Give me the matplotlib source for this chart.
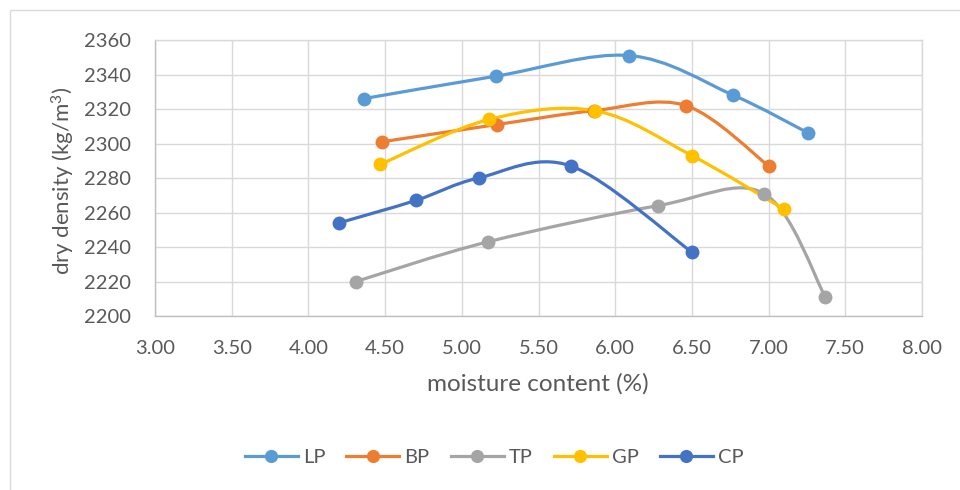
import matplotlib
matplotlib.use("Agg")
import matplotlib.pyplot as plt
from matplotlib.path import Path
from matplotlib.patches import PathPatch, Rectangle
from matplotlib.lines import Line2D
import numpy as np

plt.rcParams['font.family'] = ['Lato', 'DejaVu Sans']
plt.rcParams['mathtext.fontset'] = 'custom'
plt.rcParams['mathtext.rm'] = 'Lato'
plt.rcParams['mathtext.default'] = 'regular'

series_names = ["LP", "BP", "TP", "GP", "CP"]
colors = ["#5B9BD5", "#ED7D31", "#A5A5A5", "#FFC000", "#4472C4"]
lp_x = [4.36, 5.22, 6.09, 6.77, 7.26]
lp_y = [2326, 2339, 2351, 2328, 2306]
bp_x = [4.48, 5.23, 5.86, 6.46, 7.00]
bp_y = [2301, 2311, 2319, 2322, 2287]
tp_x = [4.31, 5.17, 6.28, 6.97, 7.37]
tp_y = [2220, 2243, 2264, 2271, 2211]
gp_x = [4.47, 5.18, 5.87, 6.50, 7.10]
gp_y = [2288, 2314, 2319, 2293, 2262]
cp_x = [4.20, 4.70, 5.11, 5.71, 6.50]
cp_y = [2254, 2267, 2280, 2287, 2237]
xs = [lp_x, bp_x, tp_x, gp_x, cp_x]
ys = [lp_y, bp_y, tp_y, gp_y, cp_y]

x_ticks = [3.0, 3.5, 4.0, 4.5, 5.0, 5.5, 6.0, 6.5, 7.0, 7.5, 8.0]
y_ticks = [2200, 2220, 2240, 2260, 2280, 2300, 2320, 2340, 2360]

W, H = 960, 490
fig = plt.figure(figsize=(W / 100, H / 100), dpi=100)
fig.patches.append(Rectangle((10 / W, -0.1), 1.2, 1 - 10 / H + 0.1, transform=fig.transFigure,
                             fill=False, edgecolor="#D9D9D9", linewidth=1.0))
ax = fig.add_axes([155 / W, 1 - 316 / H, (922 - 155) / W, (316 - 40) / H])
ax.set_xlim(3.0, 8.0)
ax.set_ylim(2200, 2360)
ax.set_xticks(x_ticks)
ax.set_xticklabels([f"{v:.2f}" for v in x_ticks])
ax.set_yticks(y_ticks)
ax.grid(True, color="#D9D9D9", linewidth=1.0)
ax.set_axisbelow(True)
for s in ["top", "right"]:
    ax.spines[s].set_color("#D9D9D9")
    ax.spines[s].set_linewidth(1.0)
for s in ["left", "bottom"]:
    ax.spines[s].set_color("#BFBFBF")
    ax.spines[s].set_linewidth(1.0)
ax.tick_params(length=0, labelsize=14.5, labelcolor="#595959")
ax.tick_params(axis="y", pad=17)
ax.tick_params(axis="x", pad=17)


def smooth_path(x, y):
    p = np.column_stack([x, y]).astype(float)
    n = len(p)
    verts = [p[0]]
    codes = [Path.MOVETO]
    for i in range(n - 1):
        p0 = p[i - 1] if i > 0 else p[i]
        p1 = p[i]
        p2 = p[i + 1]
        p3 = p[i + 2] if i + 2 < n else p[i + 1]
        c1 = p1 + (p2 - p0) / 6.0
        c2 = p2 - (p3 - p1) / 6.0
        verts += [c1, c2, p2]
        codes += [Path.CURVE4] * 3
    return Path(verts, codes)


handles = []
for name, c, x, y in zip(series_names, colors, xs, ys):
    ax.add_patch(PathPatch(smooth_path(x, y), facecolor="none", edgecolor=c,
                           linewidth=2.3, capstyle="round", zorder=3))
    ax.plot(x, y, linestyle="none", marker="o", markersize=10, color=c,
            markeredgewidth=0, zorder=4)
    handles.append(Line2D([], [], color=c, linewidth=2.3, marker="o",
                          markersize=9.5, markeredgewidth=0))

fig.text(538 / W, 1 - 384 / H, "moisture content (%)", ha="center", va="center",
         fontsize=17.5, color="#595959")
fig.text(63 / W, 1 - 181 / H, "dry density (kg/m$^{3}$)", ha="center", va="center",
         rotation=90, fontsize=16, color="#595959")

leg = fig.legend(handles, series_names, loc="center", ncol=5,
                 bbox_to_anchor=(494 / W, 1 - 457 / H), frameon=False,
                 fontsize=14.5, handlelength=2.63, handletextpad=0.25,
                 columnspacing=1.05, labelcolor="#595959")

fig.savefig("out.png", dpi=100)
